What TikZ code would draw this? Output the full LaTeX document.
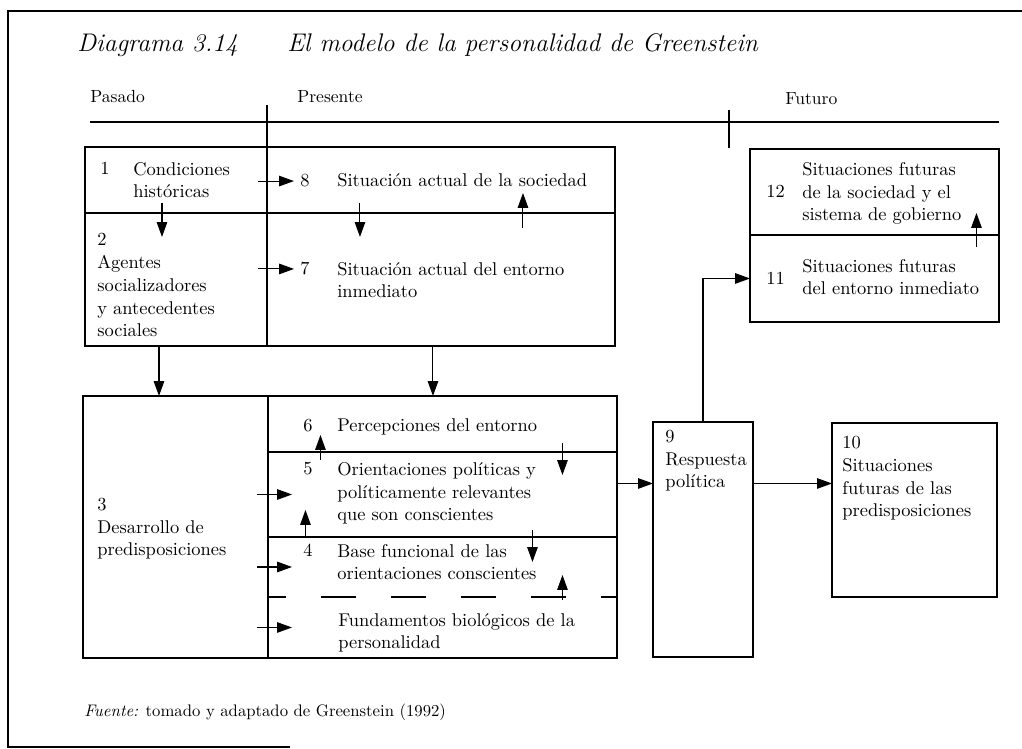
\documentclass[tikz,border=0pt]{standalone}
\usetikzlibrary{arrows.meta,calc}
\tikzset{
  txt/.style={anchor=base west, align=left, inner sep=0pt, font=\fontsize{10.5}{13}\selectfont},
  lab/.style={anchor=base west, inner sep=0pt, font=\fontsize{10}{12}\selectfont},
  titulo/.style={anchor=base west, inner sep=0pt, font=\fontsize{14.5}{17}\selectfont\itshape},
  cell/.style={anchor=north west, inner sep=0pt, outer sep=0pt},
  marco/.style={line width=1.1pt},
  linea/.style={line width=0.8pt},
  arr/.style={line width=0.6pt, -{Triangle[length=8.5pt,width=6pt]}},
}
\begin{document}
\begin{tikzpicture}[x=0.02cm, y=-0.02cm]
    \useasboundingbox (0,0) rectangle (1022,749);
    % marco y titulo
    \draw[marco] (1022,11) -- (8,11) -- (8,747) -- (290,747);
    \node[titulo] (tit) at (77,52) {Diagrama 3.14};
    \node[titulo] (tit2) at (287,52) {El modelo de la personalidad de Greenstein};

    % linea de tiempo
    \node[lab] (pas) at (90,103) {Pasado};
    \node[lab] (pre) at (297,103) {Presente};
    \node[lab] (fut) at (785,105) {Futuro};
    \draw[linea] (90,122) -- (999,122);
    \draw[linea] (729,110) -- (729,148);

    % bloque superior: 1, 2, 8, 7
    \node[cell, minimum width=3.64cm, minimum height=1.32cm] (c1) at (85,147) {};
    \node[cell, minimum width=3.64cm, minimum height=2.66cm] (c2) at (85,213) {};
    \node[cell, minimum width=6.96cm, minimum height=1.32cm] (c8) at (267,147) {};
    \node[cell, minimum width=6.96cm, minimum height=2.66cm] (c7) at (267,213) {};
    \draw[marco] (c1.north west) rectangle (c7.south east);
    \draw[linea] (c1.south west) -- (c8.south east);
    \draw[marco] (c2.south east) -- ($(c1.north east)+(0,-42)$);

    % (varias lineas: base = ultima linea)
    \node[txt] (n1) at (100,175) {1};
    \node[txt] (t1) at (133,198) {Condiciones\\históricas};
    \node[txt] (t2) at (97,337) {2\\Agentes\\socializadores\\y antecedentes\\sociales};
    \node[txt] (n8) at (300,187) {8};
    \node[txt] (t8) at (337,187) {Situación actual de la sociedad};
    \node[txt] (n7) at (300,275) {7};
    \node[txt] (t7) at (337,298) {Situación actual del entorno\\inmediato};

    \draw[arr] ($(c1.east |- n8.west)+(-9,0)$) -- ($(n8.west)+(-6,0)$);
    \draw[arr] ($(c2.east |- n7.west)+(-9,0)$) -- ($(n7.west)+(-6,0)$);
    \draw[arr] ($(c1.south)+(-14,-10)$) -- ($(c2.north)+(-14,24)$);
    \draw[arr] ($(c8.south)+(-81,-10)$) -- ($(c7.north)+(-81,24)$);
    \draw[arr] ($(c7.north)+(82,15)$) -- ($(c8.south)+(82,-20)$);

    % bloque inferior: 3, 6, 5, 4, fundamentos
    \node[cell, minimum width=3.70cm, minimum height=5.24cm] (c3) at (83,396) {};
    \node[cell, minimum width=6.98cm, minimum height=1.12cm] (c6) at (268,396) {};
    \node[cell, minimum width=6.98cm, minimum height=1.70cm] (c5) at (268,452) {};
    \node[cell, minimum width=6.98cm, minimum height=1.20cm] (c4) at (268,537) {};
    \node[cell, minimum width=6.98cm, minimum height=1.22cm] (cb) at (268,597) {};
    \draw[marco] (c3.north west) rectangle (cb.south east);
    \draw[marco] (c3.north east) -- (c3.south east);
    \draw[linea] (c6.south west) -- (c6.south east);
    \draw[linea] (c5.south west) -- (c5.south east);
    \draw[linea, dash pattern=on 0.7cm off 0.7cm, dash phase=0.34cm] (c4.south west) -- (c4.south east);

    \node[txt] (t3) at (97,556) {3\\Desarrollo de\\predisposiciones};
    \node[txt] (n6) at (303,432) {6};
    \node[txt] (t6) at (337,432) {Percepciones del entorno};
    \node[txt] (n5) at (303,475) {5};
    \node[txt] (t5) at (337,521) {Orientaciones políticas y\\políticamente relevantes\\que son conscientes};
    \node[txt] (n4) at (303,557) {4};
    \node[txt] (t4) at (337,580) {Base funcional de las\\orientaciones conscientes};
    \node[txt] (tb) at (338,649) {Fundamentos biológicos de la\\personalidad};

    \draw[arr] ($(c2.south)+(-17,0)$) coordinate (p23) -- (p23 |- c3.north);
    \draw[arr] ($(c7.south)+(-8,0)$) coordinate (p76) -- (p76 |- c6.north);
    \draw[arr] ($(c6.south)+(120,-9)$) -- ($(c5.north)+(120,23)$);
    \draw[arr] ($(c5.north)+(-122,8)$) -- ($(c6.south)+(-122,-17)$);
    \draw[arr] ($(c5.south)+(90,-7)$) -- ($(c4.north)+(90,25)$);
    \draw[arr] ($(c4.north)+(-137,0)$) -- ($(c5.south)+(-137,-27)$);
    \draw[arr] ($(cb.north)+(120,3)$) -- ($(c4.south)+(120,-22)$);
    \foreach \c in {c5,c4,cb}
        \draw[arr] ($(c3.east |- \c.west)+(-11,0)$) -- ($(\c.west)+(24,0)$);

    % respuesta y futuro
    \node[cell, draw, linea, minimum width=2.00cm, minimum height=4.70cm] (b9) at (653,422) {};
    \node[cell, draw, marco, minimum width=3.30cm, minimum height=3.48cm] (b10) at (832,423) {};
    \node[cell, draw, linea, minimum width=4.98cm, minimum height=1.72cm] (b12) at (750,149) {};
    \node[cell, draw, marco, minimum width=4.98cm, minimum height=1.74cm] (b11) at (750,235) {};

    \node[txt] (t9) at (665,488) {9\\Respuesta\\política};
    \node[txt] (t10) at (842,517) {10\\Situaciones\\futuras de las\\predisposiciones};
    \node[txt] (n12) at (766,198) {12};
    \node[txt] (t12) at (802,221) {Situaciones futuras\\de la sociedad y el\\sistema de gobierno};
    \node[txt] (n11) at (766,285) {11};
    \node[txt] (t11) at (802,295) {Situaciones futuras\\del entorno inmediato};

    \draw[arr] ($(c5.east)+(0,-11)$) coordinate (p59) -- (p59 -| b9.west);
    \draw[arr] (p59 -| b9.east) -- (p59 -| b10.west);
    \draw[arr] (b9.north) |- (b11.west);
    \draw[arr] ($(b11.north)+(102,12)$) -- ($(b12.south)+(102,-22)$);

    % fuente
    \node[lab, font=\fontsize{9.5}{11}\selectfont] (fte) at (84,717) {\textit{Fuente:} tomado y adaptado de Greenstein (1992)};
\end{tikzpicture}
\end{document}
